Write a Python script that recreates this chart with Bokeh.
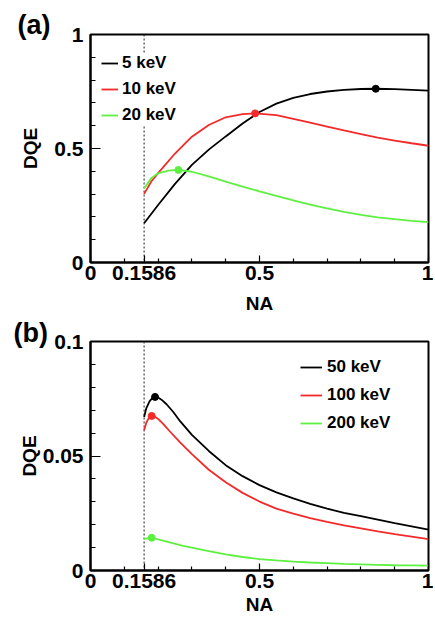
from bokeh.plotting import figure
from bokeh.models import FixedTicker, Span, Legend, LegendItem
from bokeh.layouts import column
from bokeh.embed import file_html
from bokeh.resources import INLINE

# ---------------- data ----------------
NA_CUT = 0.1586

# panel (a)
NA_A_5 = [0.1586, 0.2, 0.25, 0.3, 0.35, 0.4, 0.45, 0.5, 0.55, 0.6, 0.65, 0.7, 0.75, 0.8, 0.844, 0.9, 0.95, 1.0]
DQE_A_5 = [0.172, 0.252, 0.345, 0.428, 0.495, 0.553, 0.610, 0.660, 0.697, 0.722, 0.739, 0.750, 0.757, 0.761, 0.762, 0.760, 0.757, 0.754]

NA_A_10 = [0.1586, 0.18, 0.2, 0.25, 0.3, 0.35, 0.4, 0.45, 0.487, 0.55, 0.6, 0.65, 0.7, 0.75, 0.8, 0.85, 0.9, 0.95, 1.0]
DQE_A_10 = [0.301, 0.355, 0.392, 0.478, 0.552, 0.603, 0.637, 0.651, 0.654, 0.646, 0.630, 0.613, 0.596, 0.579, 0.563, 0.548, 0.535, 0.523, 0.512]

NA_A_20 = [0.1586, 0.18, 0.2, 0.23, 0.26, 0.3, 0.35, 0.4, 0.45, 0.5, 0.55, 0.6, 0.65, 0.7, 0.75, 0.8, 0.85, 0.9, 0.95, 1.0]
DQE_A_20 = [0.325, 0.370, 0.391, 0.403, 0.406, 0.398, 0.378, 0.355, 0.333, 0.312, 0.292, 0.272, 0.254, 0.237, 0.222, 0.209, 0.198, 0.190, 0.183, 0.177]

PEAK_A_NA = [0.844, 0.487, 0.26]
PEAK_A_DQE = [0.762, 0.654, 0.406]

# panel (b)
NA_B_50 = [0.1586, 0.165, 0.175, 0.183, 0.191, 0.20, 0.21, 0.225, 0.245, 0.265, 0.3, 0.35, 0.4, 0.45, 0.5, 0.55, 0.6, 0.65, 0.7, 0.75, 0.8, 0.85, 0.9, 0.95, 1.0]
DQE_B_50 = [0.0670, 0.0708, 0.0740, 0.0753, 0.0758, 0.0755, 0.0746, 0.0726, 0.0692, 0.0652, 0.0592, 0.0522, 0.0460, 0.0412, 0.0373, 0.0341, 0.0315, 0.0291, 0.0270, 0.0252, 0.0237, 0.0222, 0.0207, 0.0193, 0.0178]

NA_B_100 = [0.1586, 0.165, 0.172, 0.181, 0.19, 0.2, 0.215, 0.235, 0.265, 0.3, 0.35, 0.4, 0.45, 0.5, 0.55, 0.6, 0.65, 0.7, 0.75, 0.8, 0.85, 0.9, 0.95, 1.0]
DQE_B_100 = [0.0613, 0.0645, 0.0664, 0.0675, 0.0672, 0.0662, 0.0640, 0.0607, 0.0560, 0.0508, 0.0440, 0.0385, 0.0339, 0.0301, 0.0270, 0.0248, 0.0229, 0.0212, 0.0197, 0.0184, 0.0171, 0.0159, 0.0148, 0.0137]

NA_B_200 = [0.1586, 0.181, 0.22, 0.274, 0.3, 0.35, 0.4, 0.45, 0.5, 0.55, 0.6, 0.65, 0.7, 0.75, 0.8, 0.85, 0.9, 0.95, 1.0]
DQE_B_200 = [0.0138, 0.0143, 0.0128, 0.0108, 0.0100, 0.0085, 0.0070, 0.0059, 0.0050, 0.0044, 0.0039, 0.0035, 0.0032, 0.0029, 0.0027, 0.0025, 0.0023, 0.0022, 0.0021]

PEAK_B_NA = [0.191, 0.181, 0.181]
PEAK_B_DQE = [0.0758, 0.0675, 0.0143]

X_TICKS = [0, 0.1586, 0.5, 1]
X_LABELS = ["0", "0.1586", "0.5", "1"]
X_MINOR = [0.1, 0.2, 0.3, 0.4, 0.6, 0.7, 0.8, 0.9]

YA_TICKS = [0, 0.5, 1]
YA_LABELS = ["0", "0.5", "1"]
YA_MINOR = [0.1, 0.2, 0.3, 0.4, 0.6, 0.7, 0.8, 0.9]

YB_TICKS = [0, 0.05, 0.1]
YB_LABELS = ["0", "0.05", "0.1"]
YB_MINOR = [0.01, 0.02, 0.03, 0.04, 0.06, 0.07, 0.08, 0.09]

COLORS = ["#000000", "#f22a2a", "#5ef040"]
LEG_A = ["5 keV", "10 keV", "20 keV"]
LEG_B = ["50 keV", "100 keV", "200 keV"]

FONT = "Liberation Sans"


def make_panel(ymax, yticks, ylabels, yminor, series, peaks_x, peaks_y, names,
               tag, tag_dx, tag_standoff, top, bottom, fh, ylab_standoff, xlab_standoff,
               leg_loc, leg_spacing, leg_gw, leg_standoff):
    p = figure(frame_width=338, frame_height=fh, x_range=(0, 1), y_range=(0, ymax),
               output_backend="svg", toolbar_location=None, title=tag,
               min_border_left=90, min_border_right=5, min_border_top=top, min_border_bottom=bottom)
    p.xgrid.visible = False
    p.ygrid.visible = False
    p.outline_line_color = "black"
    p.outline_line_width = 2
    p.background_fill_color = "white"

    # panel tag "(a)"/"(b)" in the upper-left corner, outside the frame
    p.title.align = "left"
    p.title.offset = tag_dx
    p.title.standoff = tag_standoff
    p.title.vertical_align = "bottom"
    p.title.text_font = FONT
    p.title.text_font_style = "bold"
    p.title.text_font_size = "27px"
    p.title.text_color = "black"

    p.xaxis.ticker = FixedTicker(ticks=X_TICKS, minor_ticks=X_MINOR)
    p.xaxis.major_label_overrides = {t: l for t, l in zip(X_TICKS, X_LABELS)}
    p.yaxis.ticker = FixedTicker(ticks=yticks, minor_ticks=yminor)
    p.yaxis.major_label_overrides = {t: l for t, l in zip(yticks, ylabels)}

    for ax in (p.xaxis[0], p.yaxis[0]):
        ax.axis_line_color = "black"
        ax.axis_line_width = 2
        ax.major_tick_out = 0
        ax.minor_tick_out = 0
        ax.major_tick_line_color = "black"
        ax.minor_tick_line_color = "black"
        ax.major_tick_line_width = 1.2
        ax.minor_tick_line_width = 1.2
        ax.major_label_text_font = FONT
        ax.major_label_text_font_style = "bold"
        ax.major_label_text_font_size = "21px"
        ax.major_label_text_color = "black"
        ax.axis_label_text_font = FONT
        ax.axis_label_text_font_style = "bold"
        ax.axis_label_text_font_size = "19px"
        ax.axis_label_text_color = "black"
    p.xaxis.major_tick_in = 7
    p.xaxis.minor_tick_in = 4
    p.yaxis.major_tick_in = 10
    p.yaxis.minor_tick_in = 5
    p.xaxis.major_label_standoff = 3
    p.xaxis.axis_label_standoff = xlab_standoff
    p.yaxis.major_label_standoff = 7
    p.yaxis.axis_label_standoff = ylab_standoff
    p.xaxis.axis_label = "NA"
    p.yaxis.axis_label = "DQE"

    span = Span(location=NA_CUT, dimension="height", line_color="#222222",
                line_dash="2 2", line_width=1, level="underlay")
    p.add_layout(span)

    items = []
    for (xs, ys), c, n in zip(series, COLORS, names):
        r = p.line(xs, ys, line_color=c, line_width=1.8)
        items.append(LegendItem(label=n, renderers=[r]))
    p.scatter(peaks_x, peaks_y, size=7, color=COLORS, line_color=COLORS)

    leg = Legend(items=items, location=leg_loc,
                 background_fill_color="white", background_fill_alpha=1,
                 border_line_color=None,
                 label_text_font=FONT, label_text_font_style="bold",
                 label_text_font_size="17px", label_text_color="black",
                 glyph_width=leg_gw, glyph_height=20, label_height=20,
                 label_standoff=leg_standoff, spacing=leg_spacing,
                 padding=5, margin=0)
    p.add_layout(leg)
    return p


pa = make_panel(1, YA_TICKS, YA_LABELS, YA_MINOR,
                [(NA_A_5, DQE_A_5), (NA_A_10, DQE_A_10), (NA_A_20, DQE_A_20)],
                PEAK_A_NA, PEAK_A_DQE, LEG_A, "(a)", -73, -10, 34, 50, 228, 10, 10,
                (11, 137), 6, 17, 4)
pb = make_panel(0.1, YB_TICKS, YB_LABELS, YB_MINOR,
                [(NA_B_50, DQE_B_50), (NA_B_100, DQE_B_100), (NA_B_200, DQE_B_200)],
                PEAK_B_NA, PEAK_B_DQE, LEG_B, "(b)", -77, -12, 25, 48, 229, 0, 3,
                (210, 137), 8, 22, 5)

layout = column(pa, pb, spacing=0)
open("out.html", "w").write(file_html(layout, INLINE))
